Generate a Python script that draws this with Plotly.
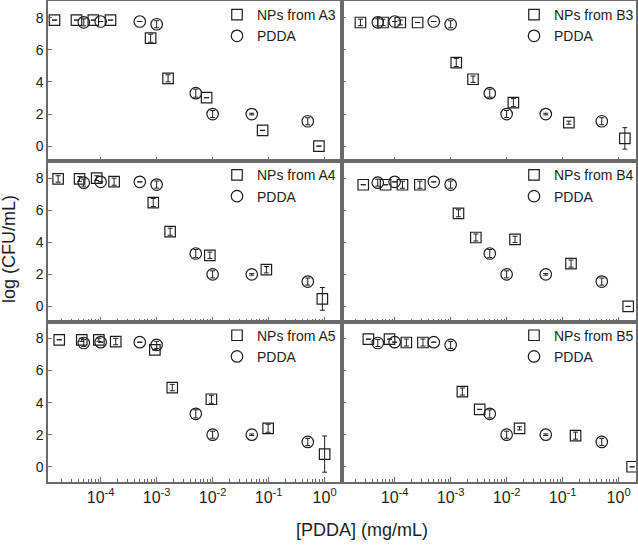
import plotly.graph_objects as go
from plotly.subplots import make_subplots

# ---------------- data ----------------
pdda_x = [5e-5, 1e-4, 5e-4, 1e-3, 5e-3, 1e-2, 5e-2, 5e-1]
pdda_y = [7.72, 7.77, 7.77, 7.60, 3.30, 2.00, 2.00, 1.55]
pdda_err = [0.22, 0.0, 0.0, 0.22, 0.25, 0.22, 0.05, 0.22]

a3_x = [1.5e-5, 3.7e-5, 7.4e-5, 1.5e-4, 7.8e-4, 1.6e-3, 7.8e-3, 7.8e-2, 0.79]
a3_y = [7.86, 7.86, 7.86, 7.86, 6.73, 4.23, 3.02, 0.98, 0.0]
a3_err = [0, 0, 0, 0, 0.25, 0.22, 0, 0, 0]

a4_x = [1.74e-5, 4.2e-5, 8.5e-5, 1.74e-4, 8.7e-4, 1.74e-3, 8.9e-3, 9.1e-2, 0.91]
a4_y = [7.95, 7.95, 8.00, 7.78, 6.48, 4.66, 3.19, 2.29, 0.47]
a4_err = [0.2, 0.15, 0.15, 0.22, 0.25, 0.22, 0.2, 0.2, 0.71]

a5_x = [1.82e-5, 4.6e-5, 9.3e-5, 1.86e-4, 9.3e-4, 1.9e-3, 9.5e-3, 9.8e-2, 1.0]
a5_y = [7.92, 7.92, 7.92, 7.81, 7.29, 4.94, 4.21, 2.40, 0.79]
a5_err = [0, 0.1, 0.1, 0.2, 0, 0.2, 0.25, 0.25, 1.13]

b3_x = [2.45e-5, 6.2e-5, 1.26e-4, 2.57e-4, 1.26e-3, 2.51e-3, 1.32e-2, 0.129, 1.29]
b3_y = [7.71, 7.71, 7.71, 7.71, 5.21, 4.17, 2.71, 1.46, 0.48]
b3_err = [0.2, 0.2, 0.15, 0, 0.25, 0.2, 0.25, 0.1, 0.67]

b4_x = [2.75e-5, 6.9e-5, 1.38e-4, 2.82e-4, 1.38e-3, 2.82e-3, 1.41e-2, 0.141, 1.48]
b4_y = [7.59, 7.59, 7.59, 7.59, 5.81, 4.30, 4.18, 2.67, 0.0]
b4_err = [0, 0, 0.22, 0.22, 0.22, 0.22, 0.2, 0.22, 0]

b5_x = [3.4e-5, 8.1e-5, 1.62e-4, 3.2e-4, 1.62e-3, 3.3e-3, 1.7e-2, 0.17, 1.74]
b5_y = [7.96, 7.96, 7.75, 7.75, 4.69, 3.58, 2.40, 1.94, 0.0]
b5_err = [0, 0, 0.22, 0.22, 0.22, 0, 0.1, 0.22, 0]

panel_names = ["A3", "B3", "A4", "B4", "A5", "B5"]
panel_data = [(a3_x, a3_y, a3_err), (b3_x, b3_y, b3_err),
              (a4_x, a4_y, a4_err), (b4_x, b4_y, b4_err),
              (a5_x, a5_y, a5_err), (b5_x, b5_y, b5_err)]

x_tickvals = [1e-4, 1e-3, 1e-2, 1e-1, 1]
x_ticktext = ["10<sup>-4</sup>", "10<sup>-3</sup>", "10<sup>-2</sup>",
              "10<sup>-1</sup>", "10<sup>0</sup>"]
y_tickvals = [0, 2, 4, 6, 8]
minor_vals = [m * 10.0 ** e for e in range(-5, 1) for m in range(2, 10)]

# ---------------- figure ----------------
W, H = 638, 545
ML, MR, MT, MB = 48, 2, 1, 63
PW, PH = W - ML - MR, H - MT - MB

fig = make_subplots(rows=3, cols=2, horizontal_spacing=0, vertical_spacing=0)

INK = "#1e1e1e"
AXC = "#6a6a6a"

for i, (name, (nx, ny, ne)) in enumerate(zip(panel_names, panel_data)):
    r, c = i // 2 + 1, i % 2 + 1
    lg = "legend" if i == 0 else f"legend{i + 1}"
    fig.add_trace(go.Scatter(
        x=nx, y=ny, mode="markers", name=f"NPs from {name}", legend=lg,
        marker=dict(symbol="square-open", size=10.5, color=INK,
                    line=dict(width=1.2, color=INK)),
        error_y=dict(type="data", array=ne, visible=True, color=INK,
                     thickness=1, width=2.5),
    ), row=r, col=c)
    fig.add_trace(go.Scatter(
        x=pdda_x, y=pdda_y, mode="markers", name="PDDA", legend=lg,
        marker=dict(symbol="circle-open", size=11.5, color=INK,
                    line=dict(width=1.2, color=INK)),
        error_y=dict(type="data", array=pdda_err, visible=True, color=INK,
                     thickness=1, width=2.5),
    ), row=r, col=c)

    fig.update_xaxes(
        type="log", range=[-4.94, 0.31], automargin=False,
        tickmode="array", tickvals=x_tickvals, ticktext=x_ticktext,
        showticklabels=(r == 3),
        ticks="inside", ticklen=5, tickwidth=1, tickcolor=AXC,
        minor=dict(tickmode="array", tickvals=minor_vals, ticks="inside",
                   ticklen=3, tickwidth=1, tickcolor=AXC, showgrid=False),
        showline=True, mirror=True, linecolor=AXC, linewidth=1.5,
        showgrid=False, zeroline=False,
        tickfont=dict(family="Arial, Liberation Sans", size=16, color=INK),
        row=r, col=c)
    fig.update_yaxes(
        range=[-0.95, 9.05], tickmode="array", tickvals=y_tickvals,
        automargin=False,
        showticklabels=(c == 1),
        ticks="inside", ticklen=4, tickwidth=1, tickcolor=AXC,
        showline=True, mirror=True, linecolor=AXC, linewidth=1.5,
        showgrid=False, zeroline=False,
        tickfont=dict(family="Arial, Liberation Sans", size=14, color=INK),
        row=r, col=c)

legends = {}
for i in range(6):
    r, c = i // 2, i % 2
    key = "legend" if i == 0 else f"legend{i + 1}"
    legends[key] = dict(
        x=(217 - ML) / PW + (0.5 + 3.0 / PW) * c, xanchor="left",
        y=1 - (-1 - MT) / PH - r / 3.0, yanchor="top",
        bgcolor="rgba(0,0,0,0)", borderwidth=0,
        font=dict(family="Arial, Liberation Sans", size=14, color=INK),
        tracegroupgap=0, itemwidth=30,
    )

fig.update_layout(
    width=W, height=H,
    margin=dict(l=ML, r=MR, t=MT, b=MB, autoexpand=False),
    paper_bgcolor="white", plot_bgcolor="white",
    showlegend=True,
    **legends,
    annotations=[
        dict(text="[PDDA] (mg/mL)", xref="paper", yref="paper",
             x=(362 - ML) / PW, y=1 - (530 - MT) / PH,
             xanchor="center", yanchor="middle", showarrow=False,
             font=dict(family="Arial, Liberation Sans", size=18, color=INK)),
        dict(text="log (CFU/mL)", xref="paper", yref="paper",
             x=(9 - ML) / PW, y=1 - (249 - MT) / PH, textangle=-90,
             xanchor="center", yanchor="middle", showarrow=False,
             font=dict(family="Arial, Liberation Sans", size=18, color=INK)),
    ],
)

fig.write_html(
    "out.html",
    config={"displayModeBar": False},
    post_script="document.body.style.margin='0';document.body.style.overflow='hidden';",
)
